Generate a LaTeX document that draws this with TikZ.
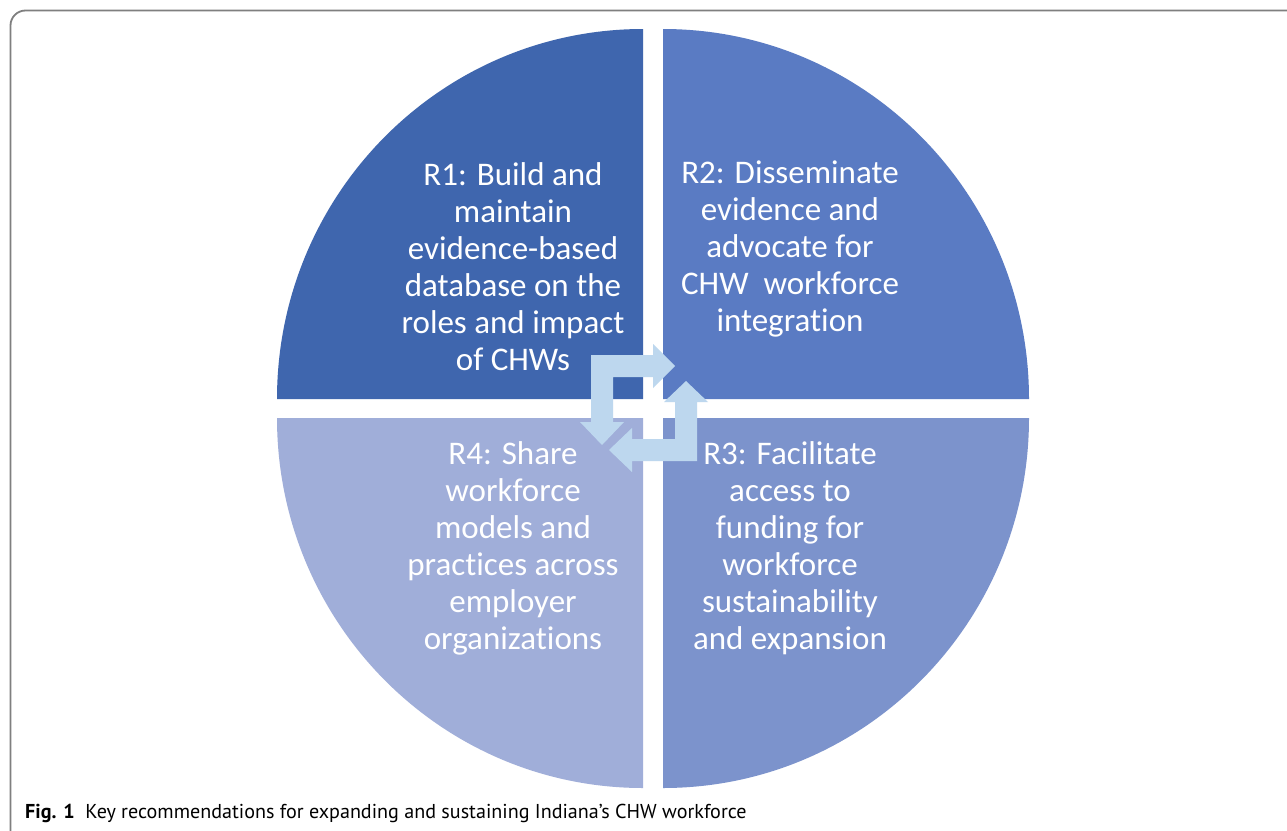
\documentclass[tikz,border=0pt]{standalone}
\usepackage{fontspec}
\setmainfont[Ligatures=NoCommon]{Carlito}
\newfontfamily\capfont{PT Sans}
\definecolor{qone}{HTML}{3F66AE}
\definecolor{qtwo}{HTML}{5A7BC3}
\definecolor{qthree}{HTML}{7C93CC}
\definecolor{qfour}{HTML}{A0AED9}
\definecolor{cyclearrow}{HTML}{BDD7EE}
\definecolor{framegray}{HTML}{7F7F7F}
\tikzset{
  quadtext/.style={text=white, align=center, font=\fontsize{33}{37}\selectfont},
  cyclefill/.style={fill=cyclearrow},
}
\begin{document}
\begin{tikzpicture}[x=1pt,y=-1pt]
\useasboundingbox (0,0) rectangle (1287,830);
\clip (0,0) rectangle (1287,830);
\fill[white] (0,0) rectangle (1287,830);
% outer frame, open to the right and bottom
\draw[framegray, line width=1.8pt, rounded corners=15pt] (10.5,900) -- (10.5,10.5) -- (1350,10.5);
% four quadrants
\fill[qone]   (643,399) -- (277,399) arc[start angle=180, end angle=270, x radius=366, y radius=370] -- cycle;
\fill[qtwo]   (663,399) -- (663,29)  arc[start angle=270, end angle=360, x radius=366, y radius=370] -- cycle;
\fill[qthree] (663,418) -- (1029,418) arc[start angle=0, end angle=90, x radius=366, y radius=370] -- cycle;
\fill[qfour]  (643,418) -- (643,788) arc[start angle=90, end angle=180, x radius=366, y radius=370] -- cycle;
% cycle arrows in the centre
\fill[cyclefill] (602,445) -- (624,422) -- (613,422) -- (613,377) -- (653,377) -- (653,388)
  -- (675,366) -- (653,344) -- (653,355) -- (591,355) -- (591,422) -- (580,422) -- cycle;
\fill[cyclefill] (686,381) -- (708,402) -- (697,402) -- (697,461) -- (632,461) -- (632,472)
  -- (609,450) -- (632,428) -- (632,439) -- (675,439) -- (675,402) -- (664,402) -- cycle;
% labels
\node[quadtext] (r1) at (513,267) {R1: Build and\\maintain\\evidence-based\\database on the\\roles and impact\\of CHWs};
\node[quadtext] (r2) at (790,249) {R2: Disseminate\\evidence and\\advocate for\\CHW\ \ workforce\\integration};
\node[quadtext] (r3) at (790,548) {R3: Facilitate\\access to\\funding for\\workforce\\sustainability\\and expansion};
\node[quadtext] (r4) at (513,548) {R4: Share\\workforce\\models and\\practices across\\employer\\organizations};
% caption
\node[anchor=base west, inner sep=0pt, font=\capfont\fontsize{20.1}{23}\selectfont] (cap) at (25,818)
  {\textbf{Fig. 1}\ \ Key recommendations for expanding and sustaining Indiana’s CHW workforce};
\end{tikzpicture}
\end{document}
